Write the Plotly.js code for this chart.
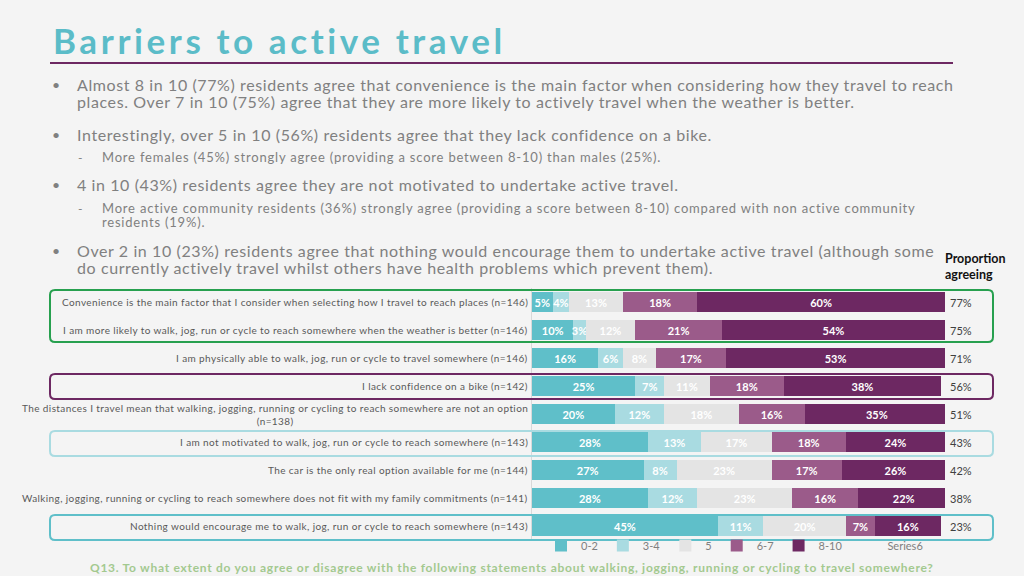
<!DOCTYPE html>
<html>
<head>
<meta charset="utf-8">
<script src="https://cdn.plot.ly/plotly-3.0.1.min.js"></script>
<style>
  html, body { margin: 0; padding: 0; background: #f4f4f4; }
  #grafico { width: 1024px; height: 576px; }
</style>
</head>
<body>
<div id="grafico"></div>
<script>
var statements = [
    'Convenience is the main factor that I consider when selecting how I travel to reach places (n=146)',
    'I am more likely to walk, jog, run or cycle to reach somewhere when the weather is better (n=146)',
    'I am physically able to walk, jog, run or cycle to travel somewhere (n=146)',
    'I lack confidence on a bike (n=142)',
    'The distances I travel mean that walking, jogging, running or cycling to reach somewhere are not an option<br>(n=138)',
    'I am not motivated to walk, jog, run or cycle to reach somewhere (n=143)',
    'The car is the only real option available for me (n=144)',
    'Walking, jogging, running or cycling to reach somewhere does not fit with my family commitments (n=141)',
    'Nothing would encourage me to walk, jog, run or cycle to reach somewhere (n=143)'
];
var score0to2 = [5, 10, 16, 25, 20, 28, 27, 28, 45];
var score3to4 = [4, 3, 6, 7, 12, 13, 8, 12, 11];
var score5 = [13, 12, 8, 11, 18, 17, 23, 23, 20];
var score6to7 = [18, 21, 17, 18, 16, 18, 17, 16, 7];
var score8to10 = [60, 54, 53, 38, 35, 24, 26, 22, 16];
var agreeing = [77, 75, 71, 56, 51, 43, 42, 38, 23];
var seriesNames = ['0-2', '3-4', '5', '6-7', '8-10'];
var seriesColors = ['#5fbfc9', '#a9dbe1', '#e4e4e4', '#9b5b8a', '#6d2862'];

var bulletLines = [
    ['bullet', 'Almost 8 in 10 (77%) residents agree that convenience is the main factor when considering how they travel to reach', 84],
    ['', 'places. Over 7 in 10 (75%) agree that they are more likely to actively travel when the weather is better.', 101],
    ['bullet', 'Interestingly, over 5 in 10 (56%) residents agree that they lack confidence on a bike.', 134],
    ['dash', 'More females (45%) strongly agree (providing a score between 8-10) than males (25%).', 157],
    ['bullet', '4 in 10 (43%) residents agree they are not motivated to undertake active travel.', 185],
    ['dash', 'More active community residents (36%) strongly agree (providing a score between 8-10) compared with non active community', 208],
    ['sub', 'residents (19%).', 222],
    ['bullet', 'Over 2 in 10 (23%) residents agree that nothing would encourage them to undertake active travel (although some', 250],
    ['', 'do currently actively travel whilst others have health problems which prevent them).', 267]
];

var fuente = 'Lato, "Open Sans", sans-serif';
var W = 1024, H = 576;
var mL = 532, mR = 79, mT = 288, mB = 36;

// pixel -> paper
function px(x) { return (x - mL) / (W - mL - mR); }
function py(y) { return (H - mB - y) / (H - mT - mB); }

function espaciado(txt, sp) {
    return txt.split('<br>').map(function (t) {
        return '<span style="letter-spacing:' + sp + 'px">' + t + '</span>';
    }).join('<br>');
}

var data = [];
var series = [score0to2, score3to4, score5, score6to7, score8to10];
for (var s = 0; s < series.length; s++) {
    data.push({
        type: 'bar',
        orientation: 'h',
        name: seriesNames[s],
        y: statements,
        x: series[s],
        marker: { color: seriesColors[s] },
        text: series[s].map(function (v) { return v + '%'; }),
        textposition: 'inside',
        insidetextanchor: 'middle',
        textangle: 0,
        constraintext: 'none',
        textfont: { color: '#ffffff', size: 11, family: fuente, weight: 'bold' },
        hoverinfo: 'none'
    });
}
// Series6 is the hidden "proportion agreeing" series (labels drawn as annotations)
data.push({
    type: 'bar',
    orientation: 'h',
    name: 'Series6',
    y: statements,
    x: agreeing,
    marker: { color: 'rgba(0,0,0,0)' },
    hoverinfo: 'none'
});

var annotations = [];

annotations.push({
    xref: 'paper', yref: 'paper', x: px(51), y: py(40),
    xanchor: 'left', yanchor: 'middle', showarrow: false,
    text: '<b>' + espaciado('Barriers to active travel', 3.6) + '</b>',
    font: { family: fuente, size: 35, color: '#5bbcc8' }
});

bulletLines.forEach(function (l) {
    var sub = l[0] === 'dash' || l[0] === 'sub';
    annotations.push({
        xref: 'paper', yref: 'paper', x: px(sub ? 100 : 75), y: py(l[2]),
        xanchor: 'left', yanchor: 'middle', showarrow: false,
        text: espaciado(l[1], sub ? 0.8 : 0.6),
        font: { family: fuente, size: sub ? 13 : 16, color: '#808080' }
    });
    if (l[0] === 'bullet' || l[0] === 'dash') {
        annotations.push({
            xref: 'paper', yref: 'paper', x: px(l[0] === 'bullet' ? 56 : 80), y: py(l[2]),
            xanchor: 'center', yanchor: 'middle', showarrow: false,
            text: l[0] === 'bullet' ? '•' : '-',
            font: { family: fuente, size: l[0] === 'bullet' ? 14 : 12, color: '#808080' }
        });
    }
});

annotations.push({
    xref: 'paper', yref: 'paper', x: px(943), y: py(266),
    xanchor: 'left', yanchor: 'middle', showarrow: false, align: 'left',
    text: '<b>Proportion<br>agreeing</b>',
    font: { family: fuente, size: 12.5, color: '#111111' }
});

statements.forEach(function (st, i) {
    annotations.push({
        xref: 'paper', yref: 'y', x: px(530), y: st,
        xanchor: 'right', yanchor: 'middle', showarrow: false, align: 'center',
        text: espaciado(st, 0.4),
        font: { family: fuente, size: 10, color: '#595959' }
    });
    annotations.push({
        xref: 'x', yref: 'y', x: 100, y: st, xshift: 3,
        xanchor: 'left', yanchor: 'middle', showarrow: false,
        text: agreeing[i] + '%',
        font: { family: fuente, size: 11, color: '#404040' }
    });
});

annotations.push({
    xref: 'paper', yref: 'paper', x: px(88), y: py(567),
    xanchor: 'left', yanchor: 'middle', showarrow: false,
    text: '<b>' + espaciado('Q13. To what extent do you agree or disagree with the following statements about walking, jogging, running or cycling to travel somewhere?', 0.72) + '</b>',
    font: { family: fuente, size: 12, color: '#a3c98f' }
});

// rounded boxes around highlighted rows
function caja(top, bottom, color) {
    var x0 = px(50), x1 = px(993), y0 = py(bottom), y1 = py(top);
    var rx = 5 / (W - mL - mR), ry = 5 / (H - mT - mB);
    var p = 'M' + (x0 + rx) + ',' + y1 +
        ' L' + (x1 - rx) + ',' + y1 + ' Q' + x1 + ',' + y1 + ' ' + x1 + ',' + (y1 - ry) +
        ' L' + x1 + ',' + (y0 + ry) + ' Q' + x1 + ',' + y0 + ' ' + (x1 - rx) + ',' + y0 +
        ' L' + (x0 + rx) + ',' + y0 + ' Q' + x0 + ',' + y0 + ' ' + x0 + ',' + (y0 + ry) +
        ' L' + x0 + ',' + (y1 - ry) + ' Q' + x0 + ',' + y1 + ' ' + (x0 + rx) + ',' + y1 + ' Z';
    return { type: 'path', xref: 'paper', yref: 'paper', path: p, line: { color: color, width: 2 }, layer: 'above' };
}

var shapes = [
    { type: 'line', xref: 'paper', yref: 'paper', x0: px(50), x1: px(953), y0: py(63), y1: py(63),
      line: { color: '#6d2862', width: 2 } },
    caja(290, 342, '#27a04f'),
    caja(374, 399, '#6d2862'),
    caja(431, 456, '#a9dbe1'),
    caja(515, 540, '#5fbfc9')
];

var layout = {
    width: W,
    height: H,
    margin: { l: mL, r: mR, t: mT, b: mB, pad: 0, autoexpand: false },
    paper_bgcolor: '#f4f4f4',
    plot_bgcolor: '#f4f4f4',
    barmode: 'stack',
    bargap: 0.32,
    showlegend: true,
    legend: {
        orientation: 'h',
        x: px(541), y: py(531), xanchor: 'left', yanchor: 'top',
        font: { family: fuente, size: 11, color: '#7f7f7f' },
        itemwidth: 30, traceorder: 'normal',
        bgcolor: 'rgba(0,0,0,0)'
    },
    xaxis: {
        range: [0, 100],
        showgrid: false, zeroline: false, showline: false,
        showticklabels: false, fixedrange: true
    },
    yaxis: {
        autorange: 'reversed',
        showgrid: false, zeroline: false,
        showline: true, linecolor: '#d9d9d9', linewidth: 1,
        showticklabels: false, ticks: '', fixedrange: true
    },
    annotations: annotations,
    shapes: shapes
};

Plotly.newPlot('grafico', data, layout, { staticPlot: true, displayModeBar: false });
</script>
</body>
</html>
